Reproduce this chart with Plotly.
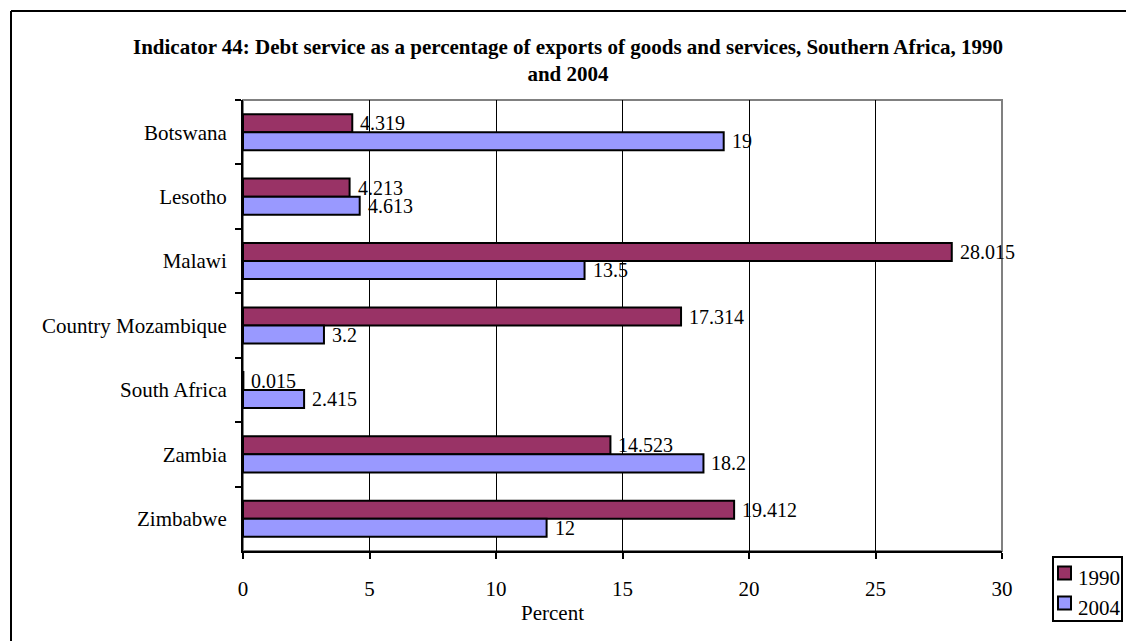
import plotly.graph_objects as go

countries = ["Botswana", "Lesotho", "Malawi", "Mozambique", "South Africa", "Zambia", "Zimbabwe"]
values_1990 = [4.319, 4.213, 28.015, 17.314, 0.015, 14.523, 19.412]
values_2004 = [19, 4.613, 13.5, 3.2, 2.415, 18.2, 12]
labels_1990 = ["4.319", "4.213", "28.015", "17.314", "0.015", "14.523", "19.412"]
labels_2004 = ["19", "4.613", "13.5", "3.2", "2.415", "18.2", "12"]
series_names = ["1990", "2004"]
series_colors = ["#993366", "#9999FF"]

FONT = "Liberation Serif, Times New Roman, serif"

# plot area in pixels: x 243..1002, y 100..551
L, R, T, B = 243, 1002, 100, 551
W, H = R - L, B - T


def px_x(x):
    return (x - L) / W


def px_y(y):
    return (B - y) / H


fig = go.Figure()
for name, vals, color in zip(series_names, [values_1990, values_2004], series_colors):
    fig.add_trace(go.Bar(
        y=countries, x=vals, name=name, orientation="h",
        marker=dict(color=color, line=dict(color="black", width=2)),
        showlegend=False,
    ))

annotations = []
for vals, labs, ys in [(values_1990, labels_1990, 9), (values_2004, labels_2004, -9)]:
    for c, v, t in zip(countries, vals, labs):
        annotations.append(dict(
            text=t, x=v, y=c, xref="x", yref="y", xanchor="left", yanchor="middle",
            xshift=6, yshift=ys, showarrow=False,
            font=dict(family=FONT, size=20, color="black"),
        ))

annotations += [
    dict(text="Percent", xref="paper", yref="paper", x=px_x(552), y=px_y(613),
         xanchor="center", yanchor="middle", showarrow=False,
         font=dict(family=FONT, size=21, color="black")),
    dict(text="Country", xref="paper", yref="y", x=px_x(76.5), y="Mozambique",
         xanchor="center", yanchor="middle", showarrow=False,
         font=dict(family=FONT, size=21, color="black")),
]

shapes = [
    # plot area border (grey)
    dict(type="rect", xref="paper", yref="paper", x0=0, x1=1, y0=0, y1=1,
         line=dict(color="#808080", width=2), layer="below"),
    # outer chart frame: top and left edges visible, others beyond the canvas
    dict(type="line", xref="paper", yref="paper",
         x0=px_x(11), x1=px_x(1140), y0=px_y(11), y1=px_y(11),
         line=dict(color="black", width=2), layer="below"),
    dict(type="line", xref="paper", yref="paper",
         x0=px_x(11), x1=px_x(11), y0=px_y(11), y1=px_y(660),
         line=dict(color="black", width=2), layer="below"),
    # legend box
    dict(type="rect", xref="paper", yref="paper",
         x0=px_x(1053), x1=px_x(1122), y0=px_y(621), y1=px_y(557),
         line=dict(color="black", width=2), fillcolor="white"),
]
for i, (name, color) in enumerate(zip(series_names, series_colors)):
    cy = 573 + 30 * i
    shapes.append(dict(type="rect", xref="paper", yref="paper",
                       x0=px_x(1058), x1=px_x(1071), y0=px_y(cy + 6.5), y1=px_y(cy - 6.5),
                       line=dict(color="black", width=2), fillcolor=color))
    annotations.append(dict(text=name, xref="paper", yref="paper",
                            x=px_x(1076), y=px_y(cy + 5), xanchor="left", yanchor="middle",
                            showarrow=False, font=dict(family=FONT, size=21, color="black")))

fig.update_layout(
    width=1126, height=641,
    margin=dict(l=L, r=1126 - R, t=T, b=641 - B, autoexpand=False),
    paper_bgcolor="white", plot_bgcolor="white",
    font=dict(family=FONT, size=21, color="black"),
    barmode="group", bargap=0.44, bargroupgap=0,
    showlegend=False,
    title=dict(
        text="<b>Indicator 44: Debt service as a percentage of exports of goods and services, Southern Africa, 1990<br>and 2004</b>",
        x=568 / 1126, xref="container", xanchor="center",
        y=1 - 53.5 / 641, yref="container", yanchor="middle",
        font=dict(family=FONT, size=21, color="black"),
    ),
    xaxis=dict(
        range=[0, 30], dtick=5, tick0=0,
        showgrid=True, gridcolor="black", gridwidth=1,
        zeroline=False, showline=True, linecolor="black", linewidth=2,
        ticks="outside", ticklen=6, tickcolor="black", tickwidth=2,
        ticklabelstandoff=12,
        tickfont=dict(family=FONT, size=21, color="black"),
    ),
    yaxis=dict(
        autorange="reversed", showgrid=False, zeroline=False,
        showline=True, linecolor="black", linewidth=2,
        ticks="outside", ticklen=6, tickcolor="black", tickwidth=2,
        tickson="boundaries", ticklabelstandoff=10,
        tickfont=dict(family=FONT, size=21, color="black"),
    ),
    shapes=shapes,
    annotations=annotations,
)

fig.write_html("out.html")
